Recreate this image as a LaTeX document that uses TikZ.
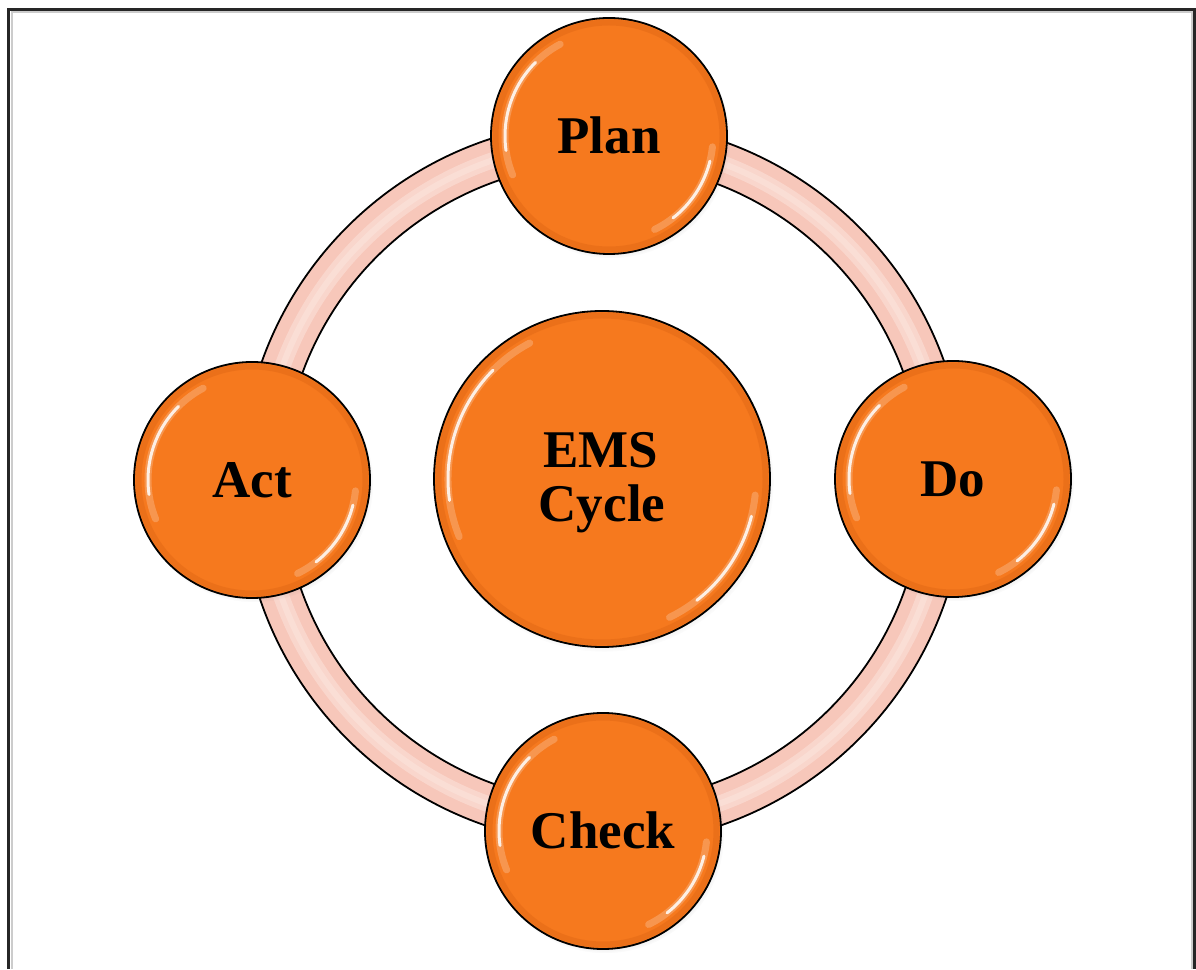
\documentclass[tikz,border=0pt]{standalone}
\usepackage{fontspec}
\setmainfont{Liberation Serif}
\usetikzlibrary{shadows}
\definecolor{orng}{RGB}{246,121,30}
\definecolor{orngdark}{RGB}{226,104,22}
\definecolor{ringpink}{RGB}{247,199,186}
\definecolor{ringlight}{RGB}{252,228,220}
\definecolor{framec}{RGB}{38,38,38}
\begin{document}
\begin{tikzpicture}[x=1pt,y=1pt,
  phase/.style={circle, draw=black, line width=1.8pt, fill=orng,
    minimum size=236pt, inner sep=0pt,
    font=\fontsize{53}{54}\selectfont\bfseries,
    text height=35pt, text depth=0pt,
    circular drop shadow={shadow xshift=2pt, shadow yshift=-3pt, shadow scale=1.01, opacity=0.25, fill=black!70}},
  big/.style={phase, minimum size=336pt},
  word/.style={font=\fontsize{53}{54}\selectfont\bfseries, inner sep=0pt, anchor=base},
  gloss/.style={white, line cap=round},
  rim/.style={orngdark, opacity=0.5}
]
\useasboundingbox (0,0) rectangle (1196,969);
\fill[white] (0,0) rectangle (1196,969);

% frame
\draw[black!20, line width=2pt] (11.5,0) -- (11.5,956.5) -- (1191.5,956.5) -- (1191.5,0);
\draw[framec, line width=3.4pt] (8.3,0) -- (8.3,959.5) -- (1194.6,959.5) -- (1194.6,0);

% ring
\coordinate (ringc) at (603,486);
\draw[ringpink, line width=42pt] (ringc) circle[radius=341];
\draw[ringlight, line width=16pt, opacity=0.55] (ringc) circle[radius=341];
\draw[ringlight, line width=6pt, opacity=0.6] (ringc) circle[radius=341];
\draw[black, line width=1.8pt] (ringc) circle[radius=320];
\draw[black, line width=1.8pt] (ringc) circle[radius=362];

% nodes
\node[phase] (plan)  at (609,833) {Plan};
\node[phase] (do)    at (953,490) {Do};
\node[phase] (check) at (603,138) {Check};
\node[phase] (act)   at (252,489) {Act};
\node[big]   (ems)   at (602,490) {};

% gloss and rim
\foreach \n/\r in {plan/118,do/118,check/118,act/118,ems/168}{
  \draw[rim, line width=6pt] (\n.center) circle[radius=\r-4.5];
  \draw[gloss, line width=7pt, opacity=0.22]
    ([shift={(118:{\r-14})}]\n.center) arc[start angle=118, end angle=202, radius={\r-14}];
  \draw[gloss, line width=3pt, opacity=0.85]
    ([shift={(135:{\r-14})}]\n.center) arc[start angle=135, end angle=188, radius={\r-14}];
  \draw[gloss, line width=7pt, opacity=0.22]
    ([shift={(-6:{\r-14})}]\n.center) arc[start angle=-6, end angle=-64, radius={\r-14}];
  \draw[gloss, line width=3pt, opacity=0.85]
    ([shift={(-14:{\r-14})}]\n.center) arc[start angle=-14, end angle=-52, radius={\r-14}];
}

% centre text
\node[word] (emsA)  at (601,501) {EMS};
\node[word] (emsB)  at (602,447) {Cycle};
\end{tikzpicture}
\end{document}
